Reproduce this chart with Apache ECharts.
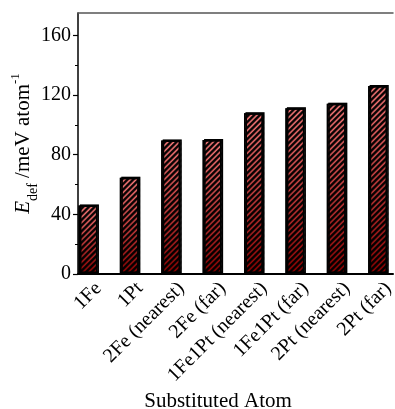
<!DOCTYPE html>
<html>
<head>
<meta charset="utf-8">
<script src="https://cdn.jsdelivr.net/npm/echarts@6/dist/echarts.min.js"></script>
<style>
  html, body { margin: 0; padding: 0; background: #fff; }
  #chart { width: 395px; height: 409px; }
</style>
</head>
<body>
<div id="chart"></div>
<script>
  var categories = ["1Fe", "1Pt", "2Fe (nearest)", "2Fe (far)", "1Fe1Pt (nearest)", "1Fe1Pt (far)", "2Pt (nearest)", "2Pt (far)"]
  var values = [46, 64.5, 89.5, 89.8, 107.8, 111.2, 114.2, 126]
  var yTicks = [0, 40, 80, 120, 160]
  var yMinorTicks = [20, 60, 100, 140]

  var font = "Liberation Serif"

  var chart = echarts.init(document.getElementById("chart"))

  // 柱子用 [序号, 数值]，横轴用数值轴，才能把第一根柱子贴近纵轴
  var barData = values.map(function (v, i) {
    return [i, v]
  })
  var xIndex = categories.map(function (c, i) {
    return i
  })

  var option = {
    animation: false,
    grid: { left: 78, top: 13, right: 2, bottom: 135, outerBoundsMode: "none" },
    xAxis: [
      {
        type: "value",
        min: -0.24,
        max: 7.37,
        splitLine: { show: false },
        axisLine: { onZero: false, lineStyle: { color: "#000", width: 2 } },
        axisTick: { show: false },
        axisLabel: {
          customValues: xIndex,
          rotate: 45,
          margin: 22,
          padding: [0, -15, 0, 0],
          hideOverlap: false,
          showMinLabel: true,
          showMaxLabel: true,
          color: "#000",
          fontFamily: font,
          fontSize: 20,
          formatter: function (v) {
            return categories[Math.round(v)]
          }
        },
        name: "Substituted Atom",
        nameLocation: "middle",
        nameGap: 117,
        nameMoveOverlap: false,
        nameTextStyle: { color: "#000", fontFamily: font, fontSize: 21, padding: [0, 35, 0, 0] }
      },
      {
        type: "value",
        position: "top",
        min: -0.24,
        max: 7.37,
        splitLine: { show: false },
        axisLine: { show: true, onZero: false, lineStyle: { color: "#555", width: 1.5 } },
        axisTick: { show: false },
        axisLabel: { show: false }
      }
    ],
    yAxis: [
      {
        type: "value",
        min: 0,
        max: 175,
        splitLine: { show: false },
        axisLine: { show: true, onZero: false, lineStyle: { color: "#000", width: 1.5 } },
        axisTick: { customValues: yTicks, length: 5, lineStyle: { color: "#000", width: 1.2 } },
        axisLabel: { customValues: yTicks, margin: 7, color: "#000", fontFamily: font, fontSize: 20 },
        name: "{i|E}{sub|def} /meV atom{sup|-1}",
        nameLocation: "middle",
        nameRotate: 90,
        nameGap: 44,
        nameMoveOverlap: false,
        nameTextStyle: {
          color: "#000",
          fontFamily: font,
          fontSize: 21,
          rich: {
            i: { fontFamily: font, fontSize: 21, fontStyle: "italic", color: "#000" },
            sub: { fontFamily: font, fontSize: 14, color: "#000", verticalAlign: "bottom", padding: [0, 0, -6, 0] },
            sup: { fontFamily: font, fontSize: 13, color: "#000", verticalAlign: "top", padding: [-4, 0, 0, 0] }
          }
        }
      },
      {
        type: "value",
        min: 0,
        max: 175,
        position: "left",
        splitLine: { show: false },
        axisLine: { show: false, onZero: false },
        axisTick: { customValues: yMinorTicks, length: 3, lineStyle: { color: "#000", width: 1 } },
        axisLabel: { show: false }
      }
    ],
    series: [
      {
        type: "bar",
        data: barData,
        barWidth: 19,
        itemStyle: {
          color: {
            type: "linear",
            x: 0,
            y: 0,
            x2: 0,
            y2: 1,
            colorStops: [
              { offset: 0, color: "#f47878" },
              { offset: 1, color: "#8a0000" }
            ]
          },
          borderColor: "#000",
          borderWidth: 1.5,
          shadowColor: "rgba(0,0,0,0.35)",
          shadowOffsetX: 1.5,
          shadowOffsetY: -1,
          shadowBlur: 0,
          decal: {
            symbol: "rect",
            symbolSize: 1,
            color: "rgba(0,0,0,0.85)",
            dashArrayX: [1, 0],
            dashArrayY: [1.2, 1.7],
            rotation: -Math.PI / 4
          }
        }
      }
    ]
  }
  chart.setOption(option)
</script>
</body>
</html>
